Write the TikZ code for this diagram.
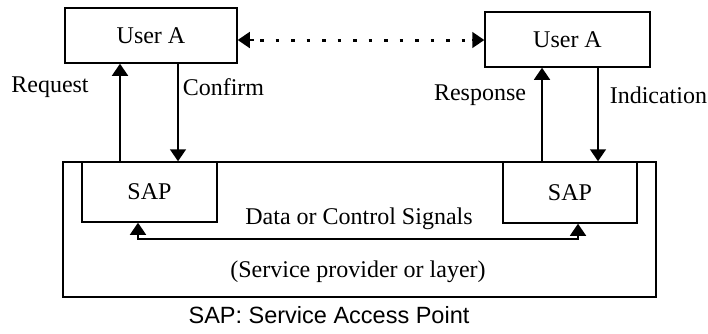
\documentclass[tikz,border=0pt]{standalone}
\usepackage{fontspec}
\setmainfont{Liberation Serif}
\setsansfont{Liberation Sans}
\usetikzlibrary{arrows.meta}
\begin{document}
\begin{tikzpicture}[x=1pt,y=-1pt,
  line width=1.5pt,
  txt/.style={font=\fontsize{24}{27}\selectfont, inner sep=0pt},
  box/.style={draw, rectangle, inner sep=0pt, font=\fontsize{24}{27}\selectfont},
  tip/.tip={Triangle[width=16pt,length=12pt]},
  arr/.style={-tip},
  dbl/.style={tip-tip},
  dots/.style={line width=3pt, dash pattern=on 3.5pt off 12pt}]
  \useasboundingbox (0,0) rectangle (708,333);

  % users and service provider
  \node[box, minimum width=172pt, minimum height=55pt] (ua1) at (151,35.5) {User A};
  \node[box, minimum width=165pt, minimum height=55pt] (ua2) at (567.5,39.5) {User A};
  \node[draw, rectangle, minimum width=593pt, minimum height=135pt, inner sep=0pt] (prov) at (359.5,229.5) {};
  \node[box, minimum width=135pt, minimum height=60pt] (sap1) at (149.5,192) {SAP};
  \node[box, minimum width=134pt, minimum height=61pt] (sap2) at (570,192.5) {SAP};

  % peer-to-peer dotted link
  \coordinate (d1) at (260,40);
  \coordinate (d2) at (466,40);
  \draw[dots] (d1) -- (d2);
  \draw[-tip] ([xshift=-6pt]d1) -- (ua1.east |- d1);
  \draw[-tip] ([xshift=6pt]d2) -- (ua2.west |- d2);

  % primitives
  \coordinate (rq) at (120,0);
  \coordinate (cf) at (178,0);
  \coordinate (rs) at (542,0);
  \coordinate (id) at (598,0);
  \draw[arr] (sap1.north -| rq) -- (ua1.south -| rq);
  \draw[arr] (ua1.south -| cf) -- (sap1.north -| cf);
  \draw[arr] (sap2.north -| rs) -- (ua2.south -| rs);
  \draw[arr] (ua2.south -| id) -- (sap2.north -| id);

  \node[txt] (lrq) at (50,87) {Request};
  \node[txt, anchor=west] (lcf) at (182,87) {Confirm};
  \node[txt] (lrs) at (480,95) {Response};
  \node[txt, anchor=west] (lid) at (609,95) {Indication};

  % data path between the access points
  \coordinate (p1) at (138,239);
  \coordinate (p2) at (578,239);
  \draw[dbl] (sap1.south -| p1) -- (p1) -- (p2) -- (sap2.south -| p2);

  \node[txt] (lds) at (359,219) {Data or Control Signals};
  \node[txt] (lsp) at (358,272) {(Service provider or layer)};
  \node[txt, font=\sffamily\fontsize{23.5}{27}\selectfont] (lkey) at (329,315) {SAP: Service Access Point};
\end{tikzpicture}
\end{document}
